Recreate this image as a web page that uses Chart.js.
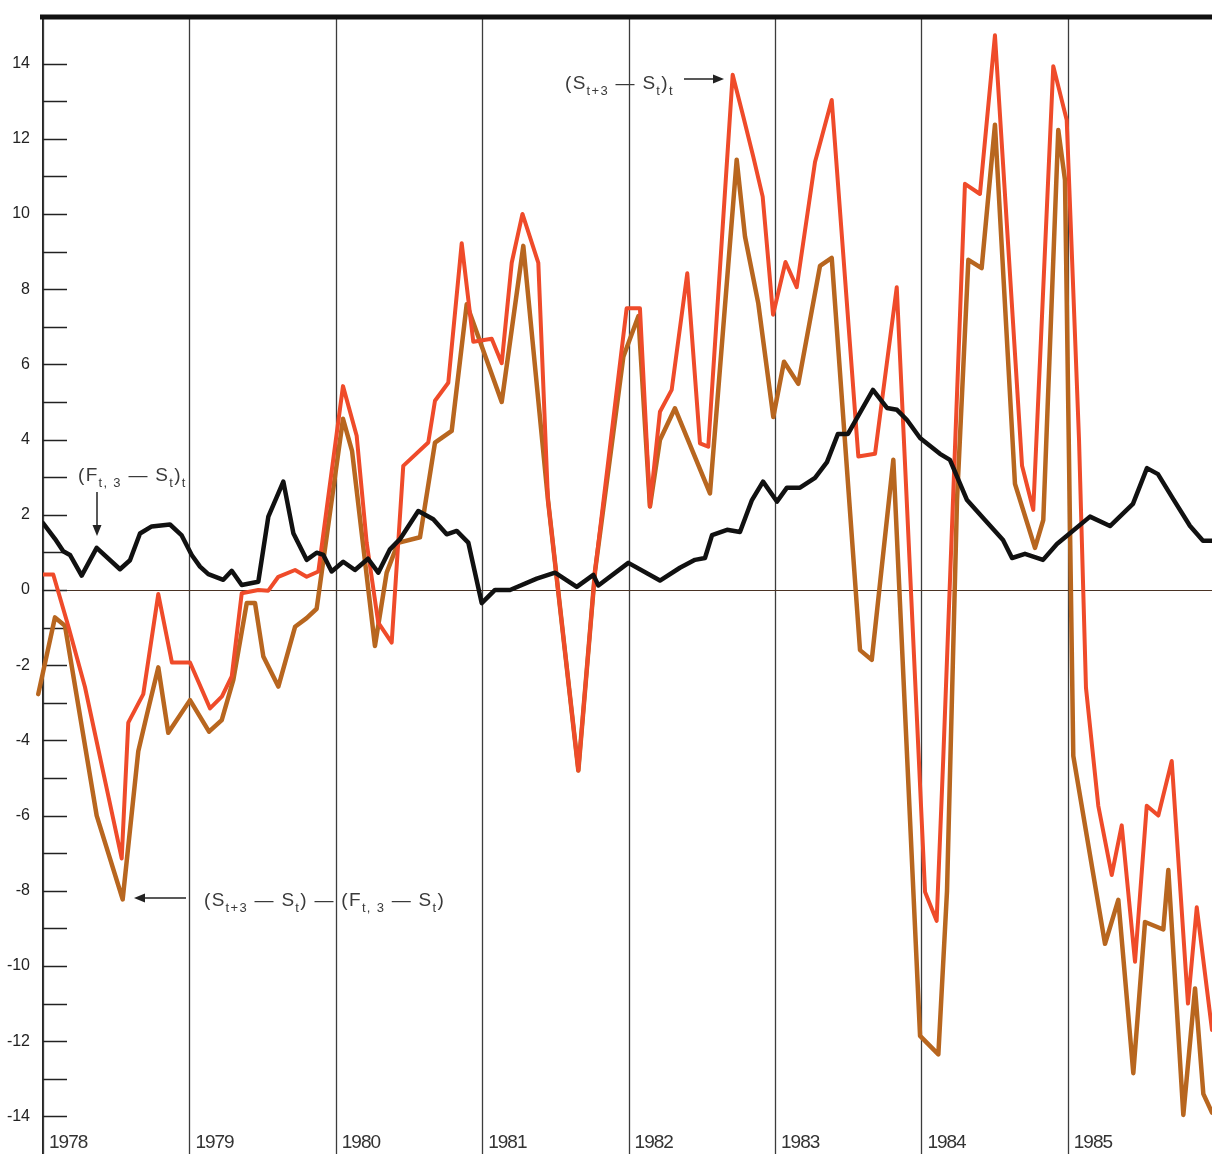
<!DOCTYPE html>
<html><head><meta charset="utf-8">
<script src="https://cdn.jsdelivr.net/npm/chart.js@4.4.1/dist/chart.umd.min.js"></script>
<style>html,body{margin:0;padding:0;background:#fff;}#wrap{width:1212px;height:1154px;}</style>
</head><body><div id="wrap"><canvas id="c" width="1212" height="1154" style="width:1212px;height:1154px"></canvas></div>
<script>
// ---- categories / ticks ----
const yearLabels = ['1978','1979','1980','1981','1982','1983','1984','1985'];
const yearStarts = [0,12,24,36,48,60,72,84]; // months since Jan 1978
const yTickMarks = [-14,-13,-12,-11,-10,-9,-8,-7,-6,-5,-4,-3,-2,-1,0,1,2,3,4,5,6,7,8,9,10,11,12,13,14];
const yTickLabels = [-14,-12,-10,-8,-6,-4,-2,0,2,4,6,8,10,12,14];

// ---- series: (S t+3 - S t)t  (red) ----
const redMonths = [0.0,0.84,2.07,3.44,6.45,6.99,8.22,9.45,10.57,12.05,13.69,14.67,15.47,16.29,17.65,18.47,19.29,20.66,21.61,22.57,24.59,25.71,26.53,27.48,28.58,29.53,31.58,32.13,33.22,34.32,35.27,36.78,37.6,38.42,39.3,40.6,41.39,43.88,45.25,47.84,48.93,49.75,50.57,51.53,52.81,53.85,54.53,56.53,57.4,58.22,58.99,59.84,60.86,61.78,63.28,64.65,66.83,68.2,69.98,72.3,73.25,73.79,75.57,76.8,78.03,80.25,81.17,82.81,83.91,84.92,85.49,86.5,87.6,88.42,89.51,90.47,91.42,92.52,93.85,94.57,95.82];
const redValues = [0.41,0.41,-0.96,-2.58,-7.14,-3.53,-2.77,-0.11,-1.93,-1.93,-3.15,-2.83,-2.3,-0.09,0.0,-0.02,0.35,0.53,0.35,0.49,5.42,4.1,1.26,-0.87,-1.4,3.3,3.92,5.03,5.51,9.22,6.6,6.68,6.03,8.7,10.0,8.7,2.4,-4.8,0.5,7.49,7.49,2.22,4.74,5.32,8.42,3.9,3.81,13.7,12.59,11.52,10.46,7.32,8.72,8.05,11.38,13.03,3.55,3.62,8.05,-8.03,-8.8,-4.5,10.8,10.53,14.75,3.3,2.13,13.93,12.5,4.0,-2.6,-5.74,-7.58,-6.26,-9.89,-5.74,-6.0,-4.55,-11.0,-8.44,-11.7];

// ---- series: (S t+3 - S t) - (F t,3 - S t)  (brown) ----
const brownMonths = [-0.39,0.98,1.8,4.4,6.53,7.81,8.5,9.45,10.27,12.05,13.61,14.65,15.6,16.7,17.38,18.06,19.29,20.66,21.61,22.43,24.59,25.33,27.21,28.17,29.1,30.9,32.13,33.5,34.73,37.6,39.37,41.39,43.88,45.25,47.57,48.8,49.75,50.57,51.8,54.67,56.86,57.54,58.63,59.86,60.74,61.91,63.69,64.65,66.97,67.93,69.7,71.89,73.39,74.1,74.92,75.85,76.94,78.03,79.67,81.31,81.99,83.22,83.77,84.45,87.05,88.14,89.37,90.33,91.83,92.24,93.47,94.43,95.11,95.82];
const brownValues = [-2.77,-0.73,-0.95,-6.0,-8.23,-4.29,-3.34,-2.06,-3.8,-2.93,-3.77,-3.46,-2.39,-0.35,-0.35,-1.77,-2.57,-0.98,-0.75,-0.5,4.55,3.7,-1.49,0.46,1.25,1.4,3.92,4.23,7.6,5.0,9.15,2.4,-4.8,0.5,6.2,7.28,2.22,3.99,4.83,2.57,11.44,9.4,7.62,4.6,6.07,5.48,8.62,8.83,-1.6,-1.86,3.46,-11.86,-12.35,-8.0,2.4,8.78,8.56,12.37,2.82,1.12,1.86,12.23,10.9,-4.41,-9.41,-8.24,-12.85,-8.83,-9.03,-7.45,-13.96,-10.6,-13.4,-13.9];

// ---- series: (F t,3 - S t)t  (black) ----
const blackMonths = [0.0,0.98,1.66,2.21,3.17,4.4,6.31,7.13,7.95,8.91,10.41,11.37,12.19,12.87,13.55,14.78,15.47,16.29,17.65,18.47,19.7,20.52,21.61,22.43,22.98,23.66,24.61,25.57,26.64,27.48,28.44,29.26,30.76,31.99,33.09,33.91,34.86,35.96,37.05,38.28,40.47,41.97,43.75,45.11,45.52,47.98,50.57,52.21,53.44,54.26,54.84,56.07,57.13,58.11,59.02,60.16,60.98,62.05,63.28,64.26,65.16,65.98,68.03,69.18,70.0,70.82,71.89,73.52,74.34,75.74,77.21,78.69,79.43,80.49,81.97,83.11,83.93,85.82,87.46,89.34,90.49,91.39,92.62,94.02,95.08,95.82];
const blackValues = [1.78,1.36,1.03,0.93,0.38,1.12,0.55,0.79,1.5,1.69,1.74,1.45,0.93,0.62,0.42,0.27,0.51,0.13,0.22,1.95,2.88,1.51,0.8,0.99,0.93,0.49,0.75,0.53,0.83,0.46,1.08,1.35,2.1,1.88,1.48,1.57,1.26,-0.35,0.0,0.0,0.3,0.46,0.08,0.4,0.12,0.72,0.25,0.59,0.8,0.85,1.46,1.6,1.54,2.39,2.88,2.35,2.72,2.72,2.98,3.4,4.15,4.15,5.32,4.84,4.79,4.52,4.04,3.62,3.46,2.39,1.86,1.33,0.85,0.96,0.8,1.22,1.44,1.95,1.7,2.29,3.24,3.08,2.43,1.7,1.31,1.31];

const pts = (xs, ys) => xs.map((x, i) => ({x: x, y: ys[i]}));

const FONT = '"Liberation Sans", Arial, sans-serif';

function rich(ctx, x, y, parts, size, subSize) {
  let cx = x;
  for (const [t, kind] of parts) {
    const sub = kind === 's';
    ctx.font = (sub ? subSize : size) + 'px ' + FONT;
    ctx.fillText(t, cx, y + (sub ? size * 0.3 : 0));
    cx += ctx.measureText(t).width;
  }
}
function arrow(ctx, x1, y1, x2, y2) {
  const a = Math.atan2(y2 - y1, x2 - x1), L = 11, W = 4.5;
  ctx.beginPath(); ctx.moveTo(x1, y1);
  ctx.lineTo(x2 - L * Math.cos(a), y2 - L * Math.sin(a)); ctx.stroke();
  ctx.beginPath(); ctx.moveTo(x2, y2);
  ctx.lineTo(x2 - L * Math.cos(a) + W * Math.sin(a), y2 - L * Math.sin(a) - W * Math.cos(a));
  ctx.lineTo(x2 - L * Math.cos(a) - W * Math.sin(a), y2 - L * Math.sin(a) + W * Math.cos(a));
  ctx.closePath(); ctx.fill();
}

const decor = {
  id: 'decor',
  beforeDatasetsDraw(chart) {
    const {ctx, chartArea: a, scales: {x, y}} = chart;
    ctx.save();
    ctx.strokeStyle = '#3c3c3c'; ctx.lineWidth = 1.3;
    yearStarts.forEach(m => {
      const px = Math.round(x.getPixelForValue(m)) + 0.5;
      ctx.beginPath(); ctx.moveTo(px, 18); ctx.lineTo(px, chart.height); ctx.stroke();
    });
    const y0 = Math.round(y.getPixelForValue(0)) + 0.5;
    ctx.strokeStyle = '#4a3324'; ctx.lineWidth = 1.2;
    ctx.beginPath(); ctx.moveTo(a.left, y0); ctx.lineTo(a.right, y0); ctx.stroke();
    ctx.strokeStyle = '#222'; ctx.lineWidth = 1.5;
    yTickMarks.forEach(v => {
      const py = Math.round(y.getPixelForValue(v)) + 0.5;
      ctx.beginPath(); ctx.moveTo(a.left, py); ctx.lineTo(a.left + 24, py); ctx.stroke();
    });
    ctx.restore();
  },
  afterDatasetsDraw(chart) {
    const {ctx, chartArea: a, scales: {x}} = chart;
    ctx.save();
    ctx.strokeStyle = '#111'; ctx.lineWidth = 5;
    ctx.beginPath(); ctx.moveTo(a.left - 3, 17); ctx.lineTo(chart.width, 17); ctx.stroke();
    ctx.fillStyle = '#333'; ctx.font = '19px ' + FONT; ctx.textBaseline = 'alphabetic';
    ctx.letterSpacing = '-1px';
    yearLabels.forEach((lab, i) => {
      ctx.fillText(lab, x.getPixelForValue(yearStarts[i]) + 6, 1148);
    });
    ctx.letterSpacing = '1.3px';
    ctx.fillStyle = '#3a3a3a';
    rich(ctx, 78, 481, [['(F','n'],['t, 3','s'],[' — S','n'],['t','s'],[')','n'],['t','s']], 19, 13);
    rich(ctx, 565, 89, [['(S','n'],['t+3','s'],[' — S','n'],['t','s'],[')','n'],['t','s']], 19, 13);
    rich(ctx, 204, 906, [['(S','n'],['t+3','s'],[' — S','n'],['t','s'],[') — (F','n'],['t, 3','s'],[' — S','n'],['t','s'],[')','n']], 19, 13);
    ctx.strokeStyle = '#222'; ctx.fillStyle = '#222'; ctx.lineWidth = 1.5;
    arrow(ctx, 97, 492, 97, 536);
    arrow(ctx, 684, 79, 724, 79);
    arrow(ctx, 186, 898, 134, 898);
    ctx.restore();
  }
};

new Chart(document.getElementById('c'), {
  type: 'line',
  data: {
    datasets: [
      {label: '(F t,3 - S t)t', data: pts(blackMonths, blackValues), borderColor: '#111', borderWidth: 4.5, order: 0},
      {label: '(S t+3 - S t)t', data: pts(redMonths, redValues), borderColor: '#ef4b2a', borderWidth: 4, order: 1},
      {label: '(S t+3 - S t) - (F t,3 - S t)', data: pts(brownMonths, brownValues), borderColor: '#b8661f', borderWidth: 4.5, order: 2, clip: {left: 10, top: 0, right: 0, bottom: 0}}
    ]
  },
  options: {
    responsive: false, animation: false, devicePixelRatio: 1,
    layout: {padding: {top: 18, left: 0, right: 0, bottom: 0}},
    elements: {point: {radius: 0}, line: {tension: 0, borderJoinStyle: 'round', borderCapStyle: 'round'}},
    plugins: {legend: {display: false}, tooltip: {enabled: false}},
    scales: {
      x: {type: 'linear', min: 0, max: 95.82, display: false},
      y: {
        min: -15.0, max: 15.21,
        afterFit(s) { s.width = 43; s.paddingTop = 0; s.paddingBottom = 0; },
        afterBuildTicks(s) { s.ticks = yTickLabels.map(v => ({value: v})); },
        grid: {display: false, drawTicks: false},
        border: {display: true, color: '#222', width: 1.5},
        ticks: {padding: 13, color: '#222', font: {family: 'Liberation Sans', size: 16}, callback: v => String(v)}
      }
    }
  },
  plugins: [decor]
});
</script></body></html>
